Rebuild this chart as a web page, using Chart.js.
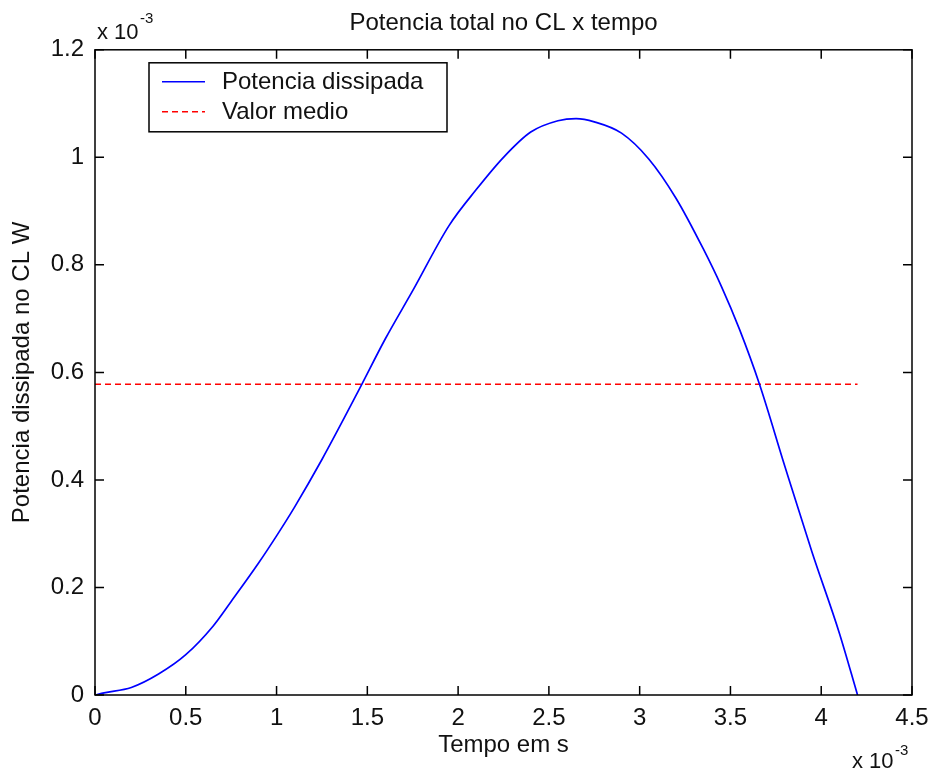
<!DOCTYPE html>
<html>
<head>
<meta charset="utf-8">
<script src="https://cdn.jsdelivr.net/npm/chart.js@4/dist/chart.umd.min.js"></script>
<style>
    body { margin: 0; background: #fff; }
    #chart { display: block; }
</style>
</head>
<body>
<canvas id="chart" width="932" height="775"></canvas>
<script>
// values are in units of 1e-3 (s on x, W on y)
const timeValues = [0, 0.05, 0.2, 0.35, 0.5, 0.65, 0.75, 0.9, 1.0, 1.1, 1.25, 1.45, 1.6, 1.75, 1.95,
    2.1, 2.25, 2.4, 2.55, 2.65, 2.75, 2.9, 3.05, 3.2, 3.35, 3.45, 3.55, 3.66, 3.8, 3.95, 4.1, 4.2];
const powerValues = [0, 0.004, 0.014, 0.039, 0.075, 0.128, 0.174, 0.245, 0.296, 0.35, 0.438, 0.565, 0.663,
    0.752, 0.873, 0.94, 1.0, 1.047, 1.068, 1.072, 1.066, 1.045, 0.997, 0.924, 0.83, 0.76, 0.68, 0.578,
    0.425, 0.265, 0.115, 0];
const meanTime = [0, 4.2];
const meanPower = [0.578, 0.578];

const seriesNames = ["Potencia dissipada", "Valor medio"];
const xTicks = [0, 0.5, 1, 1.5, 2, 2.5, 3, 3.5, 4, 4.5];
const yTicks = [0, 0.2, 0.4, 0.6, 0.8, 1, 1.2];

const FONT = "'Liberation Sans', Arial, sans-serif";

const toPoints = (xs, ys) => xs.map((x, i) => ({ x: x, y: ys[i] }));

// box round the plot with short inward ticks, like matlab
const frameTicks = {
    id: "frameTicks",
    afterDatasetsDraw(chart) {
        const { ctx, chartArea: a, scales: { x, y } } = chart;
        ctx.save();
        ctx.strokeStyle = "#000";
        ctx.lineWidth = 1.5;
        ctx.strokeRect(a.left, a.top, a.right - a.left, a.bottom - a.top);
        ctx.beginPath();
        xTicks.forEach((v) => {
            const px = x.getPixelForValue(v);
            ctx.moveTo(px, a.bottom); ctx.lineTo(px, a.bottom - 9);
            ctx.moveTo(px, a.top); ctx.lineTo(px, a.top + 9);
        });
        yTicks.forEach((v) => {
            const py = y.getPixelForValue(v);
            ctx.moveTo(a.left, py); ctx.lineTo(a.left + 9, py);
            ctx.moveTo(a.right, py); ctx.lineTo(a.right - 9, py);
        });
        ctx.stroke();

        // exponent labels
        ctx.fillStyle = "#111";
        ctx.textBaseline = "alphabetic";
        ctx.textAlign = "left";
        ctx.font = "22px " + FONT;
        ctx.fillText("x 10", a.left + 2, a.top - 11);
        ctx.fillText("x 10", a.right - 60, 768);
        ctx.font = "15px " + FONT;
        ctx.fillText("-3", a.left + 45, a.top - 27);
        ctx.fillText("-3", a.right - 17, 755);
        ctx.restore();
    },
};

// boxed legend inside the plot area
const boxLegend = {
    id: "boxLegend",
    afterDraw(chart) {
        const { ctx, chartArea: a } = chart;
        const left = a.left + 54, top = a.top + 13, w = 298, h = 69;
        ctx.save();
        ctx.fillStyle = "#fff";
        ctx.fillRect(left, top, w, h);
        ctx.strokeStyle = "#000";
        ctx.lineWidth = 1.5;
        ctx.strokeRect(left, top, w, h);
        ctx.font = "24px " + FONT;
        ctx.textBaseline = "middle";
        chart.data.datasets.forEach((ds, i) => {
            const cy = top + 19 + i * 30;
            ctx.strokeStyle = ds.borderColor;
            ctx.lineWidth = 1.5;
            ctx.setLineDash(ds.borderDash || []);
            ctx.beginPath();
            ctx.moveTo(left + 13, cy);
            ctx.lineTo(left + 56, cy);
            ctx.stroke();
            ctx.setLineDash([]);
            ctx.fillStyle = "#111";
            ctx.fillText(ds.label, left + 73, cy + 1);
        });
        ctx.restore();
    },
};

const chartData = {
    datasets: [
        {
            label: seriesNames[0],
            data: toPoints(timeValues, powerValues),
            borderColor: "#0000ff",
            borderWidth: 1.7,
            pointRadius: 0,
            cubicInterpolationMode: "monotone",
        },
        {
            label: seriesNames[1],
            data: toPoints(meanTime, meanPower),
            borderColor: "#ff0000",
            borderWidth: 1.7,
            borderDash: [6, 4],
            pointRadius: 0,
        },
    ],
};

const chartOptions = {
    responsive: false,
    animation: false,
    layout: { padding: { left: 0, right: 20, top: 0, bottom: 0 } },
    plugins: {
        legend: { display: false },
        tooltip: { enabled: false },
        title: {
            display: true,
            fullSize: false,
            text: "Potencia total no CL x tempo",
            color: "#111",
            font: { family: FONT, size: 24, weight: "normal" },
            padding: { top: 9, bottom: 12 },
        },
    },
    scales: {
        x: {
            type: "linear",
            min: 0,
            max: 4.5,
            grid: { display: false },
            border: { display: false },
            afterFit: (scale) => { scale.height = 80; },
            afterBuildTicks: (scale) => { scale.ticks = xTicks.map((v) => ({ value: v })); },
            ticks: {
                color: "#111",
                font: { family: FONT, size: 24 },
                padding: 1,
                maxRotation: 0,
                callback: (v) => String(v),
            },
            title: {
                display: true,
                text: "Tempo em s",
                color: "#111",
                font: { family: FONT, size: 24 },
                padding: { top: 0, bottom: 15 },
            },
        },
        y: {
            min: 0,
            max: 1.2,
            grid: { display: false },
            border: { display: false },
            afterFit: (scale) => { scale.width = 95; },
            afterBuildTicks: (scale) => { scale.ticks = yTicks.map((v) => ({ value: v })); },
            ticks: {
                color: "#111",
                font: { family: FONT, size: 24 },
                padding: 3,
                callback: (v) => String(v),
            },
            title: {
                display: true,
                text: "Potencia dissipada no CL W",
                color: "#111",
                font: { family: FONT, size: 24 },
                padding: { top: 8, bottom: 0 },
            },
        },
    },
};

new Chart(document.getElementById("chart"), {
    type: "line",
    data: chartData,
    options: chartOptions,
    plugins: [frameTicks, boxLegend],
});
</script>
</body>
</html>
